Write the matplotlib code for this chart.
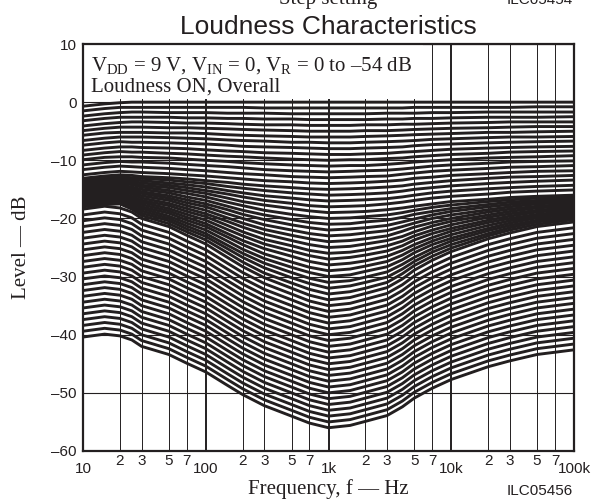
import matplotlib.pyplot as plt
from matplotlib.patches import Rectangle
from matplotlib.ticker import FixedLocator, FixedFormatter

# frequencies (Hz) at which the curves were read
freq_hz = [10, 15, 20, 25, 30, 50, 70, 100, 150, 200, 300, 500, 700,
           1000, 1500, 2000, 3000, 4000, 5000, 7000, 10000, 20000, 30000, 50000, 100000]

# level (dB) of every volume step, top curve first
level_db = [
    [-0.7, -0.3, -0.1, 0.0, 0.0, 0.0, 0.0, 0.0, 0.0, 0.0, 0.0, 0.0, 0.0, 0.0, 0.0, 0.0, 0.0, 0.0, 0.0, 0.0, 0.0, 0.0, 0.0, 0.0, 0.0],
    [-1.5, -1.1, -0.9, -0.9, -0.9, -0.9, -0.9, -0.9, -0.9, -0.9, -1.0, -1.0, -1.0, -1.0, -1.0, -1.0, -1.0, -1.0, -0.9, -0.9, -0.9, -0.9, -0.9, -0.8, -0.8],
    [-2.4, -2.0, -1.8, -1.7, -1.7, -1.8, -1.8, -1.8, -1.9, -1.9, -1.9, -2.0, -2.0, -2.0, -2.0, -2.0, -1.9, -1.9, -1.9, -1.8, -1.8, -1.7, -1.7, -1.7, -1.7],
    [-3.2, -2.8, -2.6, -2.6, -2.6, -2.6, -2.7, -2.7, -2.8, -2.8, -2.9, -2.9, -3.0, -3.0, -3.0, -3.0, -2.9, -2.9, -2.8, -2.8, -2.7, -2.6, -2.6, -2.6, -2.5],
    [-4.1, -3.7, -3.5, -3.4, -3.4, -3.5, -3.6, -3.6, -3.7, -3.8, -3.9, -3.9, -4.0, -4.0, -4.0, -3.9, -3.9, -3.8, -3.8, -3.7, -3.6, -3.5, -3.4, -3.4, -3.4],
    [-4.9, -4.5, -4.3, -4.3, -4.3, -4.4, -4.4, -4.5, -4.6, -4.7, -4.8, -4.9, -5.0, -5.0, -5.0, -4.9, -4.9, -4.8, -4.7, -4.6, -4.5, -4.4, -4.3, -4.2, -4.2],
    [-5.7, -5.3, -5.2, -5.2, -5.2, -5.3, -5.3, -5.4, -5.6, -5.7, -5.8, -5.9, -6.0, -6.0, -6.0, -5.9, -5.8, -5.7, -5.6, -5.5, -5.4, -5.2, -5.2, -5.1, -5.0],
    [-6.6, -6.2, -6.0, -6.0, -6.0, -6.1, -6.2, -6.3, -6.5, -6.6, -6.7, -6.9, -6.9, -7.0, -7.0, -6.9, -6.8, -6.7, -6.6, -6.4, -6.3, -6.1, -6.0, -6.0, -5.9],
    [-7.4, -7.0, -6.8, -6.9, -6.9, -7.0, -7.1, -7.2, -7.4, -7.6, -7.7, -7.8, -7.9, -8.0, -8.0, -7.9, -7.8, -7.7, -7.5, -7.3, -7.2, -7.0, -6.9, -6.8, -6.7],
    [-8.3, -7.9, -7.7, -7.7, -7.8, -7.9, -8.0, -8.2, -8.4, -8.5, -8.7, -8.8, -8.9, -9.0, -9.0, -8.9, -8.8, -8.6, -8.5, -8.3, -8.1, -7.9, -7.8, -7.7, -7.6],
    [-9.1, -8.7, -8.5, -8.6, -8.6, -8.8, -8.9, -9.1, -9.3, -9.4, -9.6, -9.8, -9.9, -10.0, -9.9, -9.9, -9.7, -9.6, -9.4, -9.2, -9.0, -8.8, -8.6, -8.5, -8.4],
    [-9.9, -9.5, -9.4, -9.4, -9.5, -9.6, -9.8, -10.0, -10.2, -10.4, -10.6, -10.8, -10.9, -11.0, -10.9, -10.9, -10.7, -10.5, -10.3, -10.1, -9.9, -9.6, -9.5, -9.4, -9.2],
    [-10.8, -10.4, -10.2, -10.3, -10.3, -10.5, -10.7, -10.9, -11.1, -11.3, -11.6, -11.8, -11.9, -12.0, -11.9, -11.8, -11.7, -11.5, -11.3, -11.0, -10.8, -10.5, -10.3, -10.2, -10.1],
    [-11.6, -11.2, -11.0, -11.1, -11.2, -11.4, -11.6, -11.8, -12.1, -12.3, -12.5, -12.8, -12.9, -13.0, -12.9, -12.8, -12.7, -12.4, -12.2, -11.9, -11.7, -11.4, -11.2, -11.1, -10.9],
    [-12.5, -12.1, -11.9, -12.0, -12.1, -12.3, -12.5, -12.7, -13.0, -13.2, -13.5, -13.7, -13.9, -14.0, -13.9, -13.8, -13.6, -13.4, -13.1, -12.9, -12.6, -12.3, -12.1, -11.9, -11.8],
    [-13.1, -12.7, -12.5, -12.6, -12.8, -13.0, -13.2, -13.5, -13.8, -14.1, -14.4, -14.7, -14.9, -15.0, -14.9, -14.8, -14.6, -14.4, -14.1, -13.8, -13.5, -13.1, -12.9, -12.8, -12.6],
    [-13.4, -13.0, -12.8, -13.0, -13.1, -13.4, -13.7, -14.0, -14.5, -14.8, -15.2, -15.6, -15.8, -16.0, -15.9, -15.8, -15.6, -15.3, -15.0, -14.7, -14.4, -14.0, -13.8, -13.6, -13.4],
    [-13.6, -13.2, -13.1, -13.3, -13.5, -13.9, -14.2, -14.6, -15.2, -15.6, -16.1, -16.5, -16.8, -17.0, -16.9, -16.8, -16.6, -16.3, -16.0, -15.6, -15.3, -14.9, -14.7, -14.5, -14.3],
    [-13.9, -13.5, -13.4, -13.6, -13.9, -14.3, -14.7, -15.2, -15.8, -16.3, -16.9, -17.4, -17.8, -18.0, -17.9, -17.8, -17.5, -17.2, -16.9, -16.5, -16.2, -15.8, -15.5, -15.3, -15.1],
    [-14.2, -13.8, -13.6, -13.9, -14.3, -14.7, -15.2, -15.7, -16.5, -17.1, -17.7, -18.3, -18.7, -19.0, -18.9, -18.8, -18.5, -18.2, -17.9, -17.5, -17.1, -16.7, -16.4, -16.2, -16.0],
    [-14.5, -14.1, -13.9, -14.2, -14.6, -15.2, -15.7, -16.3, -17.2, -17.8, -18.6, -19.3, -19.7, -20.0, -19.9, -19.7, -19.4, -19.0, -18.6, -18.1, -17.7, -17.1, -16.8, -16.5, -16.3],
    [-14.7, -14.3, -14.2, -14.6, -15.0, -15.6, -16.3, -16.9, -17.9, -18.6, -19.4, -20.2, -20.7, -21.0, -20.9, -20.6, -20.3, -19.8, -19.3, -18.8, -18.3, -17.6, -17.2, -16.9, -16.6],
    [-15.0, -14.6, -14.5, -14.9, -15.4, -16.1, -16.8, -17.5, -18.5, -19.3, -20.2, -21.1, -21.6, -22.0, -21.8, -21.6, -21.2, -20.6, -20.1, -19.4, -18.8, -18.0, -17.6, -17.2, -16.9],
    [-15.3, -14.9, -14.7, -15.2, -15.7, -16.5, -17.3, -18.0, -19.2, -20.0, -21.1, -22.0, -22.6, -23.0, -22.8, -22.5, -22.1, -21.4, -20.8, -20.0, -19.4, -18.5, -18.0, -17.5, -17.2],
    [-15.5, -15.1, -15.0, -15.5, -16.1, -16.9, -17.8, -18.6, -19.9, -20.8, -21.9, -22.9, -23.5, -24.0, -23.8, -23.5, -23.0, -22.2, -21.5, -20.7, -20.0, -18.9, -18.4, -17.9, -17.5],
    [-15.8, -15.4, -15.3, -15.8, -16.5, -17.4, -18.3, -19.2, -20.5, -21.5, -22.7, -23.8, -24.5, -25.0, -24.8, -24.4, -23.8, -23.1, -22.3, -21.3, -20.5, -19.4, -18.8, -18.2, -17.8],
    [-16.1, -15.7, -15.6, -16.2, -16.9, -17.8, -18.8, -19.7, -21.2, -22.3, -23.6, -24.7, -25.5, -26.0, -25.8, -25.4, -24.7, -23.9, -23.0, -22.0, -21.1, -19.8, -19.2, -18.6, -18.1],
    [-16.3, -15.9, -15.9, -16.5, -17.2, -18.3, -19.3, -20.3, -21.9, -23.0, -24.4, -25.6, -26.4, -27.0, -26.7, -26.3, -25.6, -24.7, -23.7, -22.6, -21.7, -20.3, -19.6, -18.9, -18.4],
    [-16.6, -16.2, -16.1, -16.8, -17.6, -18.7, -19.8, -20.9, -22.6, -23.8, -25.2, -26.5, -27.4, -28.0, -27.7, -27.3, -26.5, -25.5, -24.5, -23.3, -22.2, -20.7, -20.0, -19.3, -18.7],
    [-16.9, -16.5, -16.4, -17.1, -18.0, -19.1, -20.3, -21.4, -23.2, -24.5, -26.1, -27.5, -28.4, -29.0, -28.7, -28.2, -27.4, -26.3, -25.2, -23.9, -22.8, -21.2, -20.4, -19.6, -19.0],
    [-17.2, -16.8, -16.7, -17.4, -18.3, -19.6, -20.8, -22.0, -23.9, -25.3, -26.9, -28.4, -29.3, -30.0, -29.7, -29.1, -28.3, -27.1, -25.9, -24.5, -23.4, -21.7, -20.8, -19.9, -19.3],
    [-17.4, -17.0, -17.0, -17.8, -18.7, -20.0, -21.3, -22.6, -24.6, -26.0, -27.7, -29.3, -30.3, -31.0, -30.7, -30.1, -29.2, -27.9, -26.7, -25.2, -23.9, -22.1, -21.2, -20.3, -19.6],
    [-17.7, -17.3, -17.2, -18.1, -19.1, -20.4, -21.8, -23.1, -25.2, -26.7, -28.5, -30.2, -31.2, -32.0, -31.6, -31.0, -30.1, -28.7, -27.4, -25.8, -24.5, -22.6, -21.6, -20.6, -19.9],
    [-18.0, -17.6, -17.5, -18.4, -19.5, -20.9, -22.3, -23.7, -25.9, -27.5, -29.4, -31.1, -32.2, -33.0, -32.6, -32.0, -31.0, -29.5, -28.1, -26.5, -25.1, -23.0, -22.0, -21.0, -20.2],
    [-18.4, -17.9, -18.2, -18.9, -20.0, -21.4, -22.9, -24.4, -26.7, -28.3, -30.2, -32.0, -33.2, -34.0, -33.6, -32.9, -31.9, -30.4, -28.9, -27.2, -25.7, -23.5, -22.5, -21.4, -20.6],
    [-19.4, -18.9, -19.2, -19.9, -21.0, -22.4, -23.9, -25.4, -27.7, -29.3, -31.2, -33.0, -34.2, -35.0, -34.6, -33.9, -32.9, -31.4, -29.9, -28.2, -26.7, -24.5, -23.5, -22.4, -21.6],
    [-20.4, -19.9, -20.2, -20.9, -22.0, -23.4, -24.9, -26.4, -28.7, -30.3, -32.2, -34.0, -35.2, -36.0, -35.6, -34.9, -33.9, -32.4, -30.9, -29.2, -27.7, -25.5, -24.5, -23.4, -22.6],
    [-21.4, -20.9, -21.2, -21.9, -23.0, -24.4, -25.9, -27.4, -29.7, -31.3, -33.2, -35.0, -36.2, -37.0, -36.6, -35.9, -34.9, -33.4, -31.9, -30.2, -28.7, -26.5, -25.5, -24.4, -23.6],
    [-22.4, -21.9, -22.2, -22.9, -24.0, -25.4, -26.9, -28.4, -30.7, -32.3, -34.2, -36.0, -37.2, -38.0, -37.6, -36.9, -35.9, -34.4, -32.9, -31.2, -29.7, -27.5, -26.5, -25.4, -24.6],
    [-23.4, -22.9, -23.2, -23.9, -25.0, -26.4, -27.9, -29.4, -31.7, -33.3, -35.2, -37.0, -38.2, -39.0, -38.6, -37.9, -36.9, -35.4, -33.9, -32.2, -30.7, -28.5, -27.5, -26.4, -25.6],
    [-24.4, -23.9, -24.2, -24.9, -26.0, -27.4, -28.9, -30.4, -32.7, -34.3, -36.2, -38.0, -39.2, -40.0, -39.6, -38.9, -37.9, -36.4, -34.9, -33.2, -31.7, -29.5, -28.5, -27.4, -26.6],
    [-25.4, -24.9, -25.2, -25.9, -27.0, -28.4, -29.9, -31.4, -33.7, -35.3, -37.2, -39.0, -40.2, -41.0, -40.6, -39.9, -38.9, -37.4, -35.9, -34.2, -32.7, -30.5, -29.5, -28.4, -27.6],
    [-26.4, -25.9, -26.2, -26.9, -28.0, -29.4, -30.9, -32.4, -34.7, -36.3, -38.2, -40.0, -41.2, -42.0, -41.6, -40.9, -39.9, -38.4, -36.9, -35.2, -33.7, -31.5, -30.5, -29.4, -28.6],
    [-27.4, -26.9, -27.2, -27.9, -29.0, -30.4, -31.9, -33.4, -35.7, -37.3, -39.2, -41.0, -42.2, -43.0, -42.6, -41.9, -40.9, -39.4, -37.9, -36.2, -34.7, -32.5, -31.5, -30.4, -29.6],
    [-28.4, -27.9, -28.2, -28.9, -30.0, -31.4, -32.9, -34.4, -36.7, -38.3, -40.2, -42.0, -43.2, -44.0, -43.6, -42.9, -41.9, -40.4, -38.9, -37.2, -35.7, -33.5, -32.5, -31.4, -30.6],
    [-29.4, -28.9, -29.2, -29.9, -31.0, -32.4, -33.9, -35.4, -37.7, -39.3, -41.2, -43.0, -44.2, -45.0, -44.6, -43.9, -42.9, -41.4, -39.9, -38.2, -36.7, -34.5, -33.5, -32.4, -31.6],
    [-30.4, -29.9, -30.2, -30.9, -32.0, -33.4, -34.9, -36.4, -38.7, -40.3, -42.2, -44.0, -45.2, -46.0, -45.6, -44.9, -43.9, -42.4, -40.9, -39.2, -37.7, -35.5, -34.5, -33.4, -32.6],
    [-31.4, -30.9, -31.2, -31.9, -33.0, -34.4, -35.9, -37.4, -39.7, -41.3, -43.2, -45.0, -46.2, -47.0, -46.6, -45.9, -44.9, -43.4, -41.9, -40.2, -38.7, -36.5, -35.5, -34.4, -33.6],
    [-32.4, -31.9, -32.2, -32.9, -34.0, -35.4, -36.9, -38.4, -40.7, -42.3, -44.2, -46.0, -47.2, -48.0, -47.6, -46.9, -45.9, -44.4, -42.9, -41.2, -39.7, -37.5, -36.5, -35.4, -34.6],
    [-33.4, -32.9, -33.2, -33.9, -35.0, -36.4, -37.9, -39.4, -41.7, -43.3, -45.2, -47.0, -48.2, -49.0, -48.6, -47.9, -46.9, -45.4, -43.9, -42.2, -40.7, -38.5, -37.5, -36.4, -35.6],
    [-34.4, -33.9, -34.2, -34.9, -36.0, -37.4, -38.9, -40.4, -42.7, -44.3, -46.2, -48.0, -49.2, -50.0, -49.6, -48.9, -47.9, -46.4, -44.9, -43.2, -41.7, -39.5, -38.5, -37.4, -36.6],
    [-35.4, -34.9, -35.2, -35.9, -37.0, -38.4, -39.9, -41.4, -43.7, -45.3, -47.2, -49.0, -50.2, -51.0, -50.6, -49.9, -48.9, -47.4, -45.9, -44.2, -42.7, -40.5, -39.5, -38.4, -37.6],
    [-36.4, -35.9, -36.2, -36.9, -38.0, -39.4, -40.9, -42.4, -44.7, -46.3, -48.2, -50.0, -51.2, -52.0, -51.6, -50.9, -49.9, -48.4, -46.9, -45.2, -43.7, -41.5, -40.5, -39.4, -38.6],
    [-37.4, -36.9, -37.2, -37.9, -39.0, -40.4, -41.9, -43.4, -45.7, -47.3, -49.2, -51.0, -52.2, -53.0, -52.6, -51.9, -50.9, -49.4, -47.9, -46.2, -44.7, -42.5, -41.5, -40.4, -39.6],
    [-38.4, -37.9, -38.2, -38.9, -40.0, -41.4, -42.9, -44.4, -46.7, -48.3, -50.2, -52.0, -53.2, -54.0, -53.6, -52.9, -51.9, -50.4, -48.9, -47.2, -45.7, -43.5, -42.5, -41.4, -40.6],
    [-39.4, -38.9, -39.2, -39.9, -41.0, -42.4, -43.9, -45.4, -47.7, -49.3, -51.2, -53.0, -54.2, -55.0, -54.6, -53.9, -52.9, -51.4, -49.9, -48.2, -46.7, -44.5, -43.5, -42.4, -41.6],
    [-40.4, -39.9, -40.2, -40.9, -42.0, -43.4, -44.9, -46.4, -48.7, -50.3, -52.2, -54.0, -55.2, -56.0, -55.6, -54.9, -53.9, -52.4, -50.9, -49.2, -47.7, -45.5, -44.5, -43.4, -42.6],
]

# axis ticks
x_major = [10, 100, 1000, 10000, 100000]
x_major_labels = ['10', '100', '1k', '10k', '100k']
x_minor = [20, 30, 50, 70, 200, 300, 500, 700, 2000, 3000, 5000, 7000,
           20000, 30000, 50000, 70000]
x_minor_labels = ['2', '3', '5', '7'] * 4
y_ticks = [10, 0, -10, -20, -30, -40, -50, -60]
y_labels = ['10', '0', '\u201310', '\u201320', '\u201330', '\u201340', '\u201350', '\u201360']

INK = '#231f20'
SERIF = 'Liberation Serif'

plt.rcParams['font.family'] = 'Liberation Sans'
plt.rcParams['mathtext.fontset'] = 'custom'
plt.rcParams['mathtext.rm'] = SERIF
plt.rcParams['mathtext.it'] = SERIF + ':italic'

fig = plt.figure(figsize=(5.93, 5.0), dpi=100)
ax = fig.add_axes([83 / 593, 49 / 500, 491 / 593, 407 / 500])

for row in level_db:
    ax.plot(freq_hz, row, color=INK, lw=2.1, solid_joinstyle='round', zorder=3)

ax.set_xscale('log')
ax.set_xlim(10, 100000)
ax.set_ylim(-60, 10)

ax.xaxis.set_major_locator(FixedLocator(x_major))
ax.xaxis.set_major_formatter(FixedFormatter(x_major_labels))
ax.xaxis.set_minor_locator(FixedLocator(x_minor))
ax.xaxis.set_minor_formatter(FixedFormatter(x_minor_labels))
ax.yaxis.set_major_locator(FixedLocator(y_ticks))
ax.yaxis.set_major_formatter(FixedFormatter(y_labels))

ax.tick_params(axis='x', which='major', length=0, pad=8, labelsize=11, colors=INK)
ax.tick_params(axis='x', which='minor', length=0, pad=2.0, labelsize=11, colors=INK)
ax.tick_params(axis='y', length=0, pad=4.5, labelsize=11, colors=INK)

ax.grid(True, which='major', axis='x', color=INK, lw=1.4)
ax.grid(True, which='minor', axis='x', color=INK, lw=0.7)
ax.grid(True, which='major', axis='y', color=INK, lw=0.8)
ax.set_axisbelow(True)
for s in ax.spines.values():
    s.set_color(INK)
    s.set_linewidth(1.6)
    s.set_zorder(4)

ax.set_title('Loudness Characteristics', fontsize=19, color=INK, pad=7.5)
ax.set_xlabel('Frequency, f \u2014 Hz', family=SERIF, fontsize=15, color=INK)
ax.xaxis.set_label_coords(0.5, -0.068)
ax.set_ylabel('Level \u2014 dB', family=SERIF, fontsize=15, color=INK)
ax.yaxis.set_label_coords(-0.106, 0.5)

# white panel behind the conditions note
ax.add_patch(Rectangle((0, 0.865), 0.692, 0.135, transform=ax.transAxes,
                       fc='white', ec='none', zorder=1))
ax.text(0.016, 0.936,
        '$\\mathrm{V_{DD}}$ = 9 V, $\\mathrm{V_{IN}}$ = 0, $\\mathrm{V_R}$ = 0 to \u201354 dB',
        transform=ax.transAxes, va='baseline', ha='left', family=SERIF, fontsize=15,
        color=INK, zorder=5)
ax.text(0.016, 0.882, 'Loudness ON, Overall',
        transform=ax.transAxes, va='baseline', ha='left', family=SERIF, fontsize=15,
        color=INK, zorder=5)

fig.text(573 / 593, 5 / 500, 'ILC05456', ha='right', va='baseline', fontsize=11, color=INK)
fig.text(328 / 593, 1 - 4 / 500, 'Step setting', ha='center', va='baseline',
         family=SERIF, fontsize=15, color=INK)
fig.text(573 / 593, 1 - 4 / 500, 'ILC05454', ha='right', va='baseline', fontsize=11, color=INK)

fig.savefig('out.png', dpi=100)
